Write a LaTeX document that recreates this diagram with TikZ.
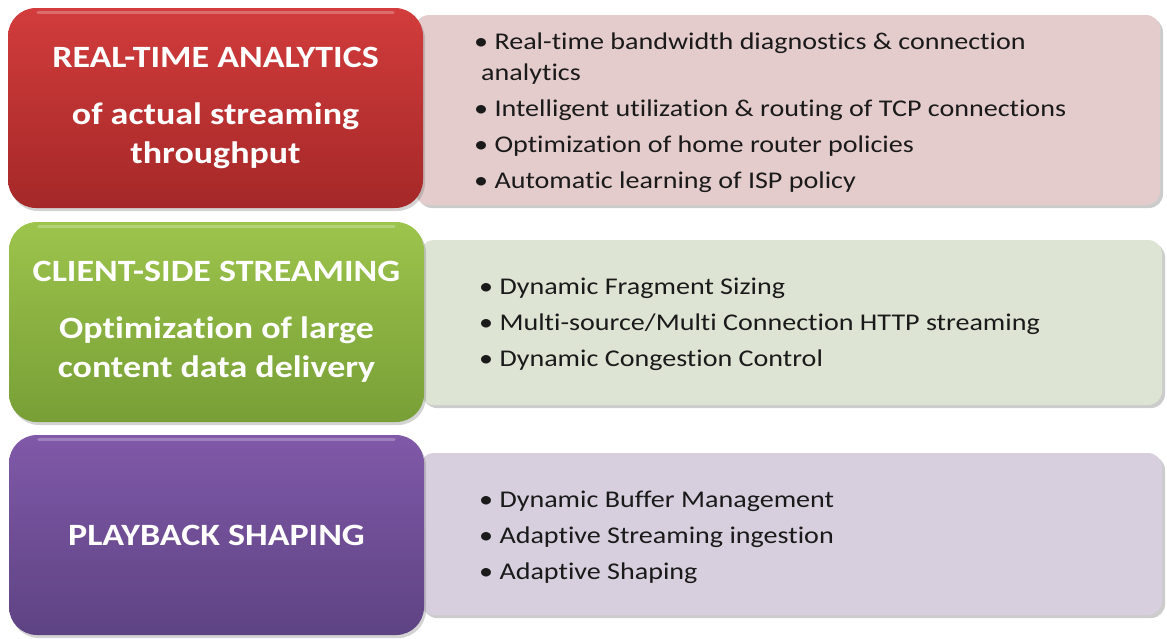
\documentclass[tikz,border=0pt]{standalone}
\usepackage{fontspec}
\setmainfont{Carlito}[Ligatures={NoCommon}]
\newfontfamily\headfont[FakeStretch=1.16,Ligatures={NoCommon}]{Carlito}
\newfontfamily\listfont[FakeStretch=1.17,Ligatures={NoCommon}]{Carlito}
\usetikzlibrary{shadows,calc}

\definecolor{redtop}{HTML}{D23C3C}
\definecolor{redbot}{HTML}{A52828}
\definecolor{greentop}{HTML}{9DC44C}
\definecolor{greenbot}{HTML}{779F36}
\definecolor{purpletop}{HTML}{8059A8}
\definecolor{purplebot}{HTML}{5E4383}
\definecolor{redpanel}{HTML}{E5CCCC}
\definecolor{greenpanel}{HTML}{DDE4D4}
\definecolor{purplepanel}{HTML}{D7CFDD}
\definecolor{textdark}{HTML}{1A1A1A}

\tikzset{
  headbox/.style={rounded corners=28pt, minimum width=415pt, minimum height=200pt,
    inner sep=0pt, align=center, text=white,
    font=\headfont\fontsize{31}{39}\selectfont\bfseries,
    drop shadow={shadow xshift=2pt, shadow yshift=-3pt, opacity=0.35}},
  panel/.style={rounded corners=14pt, inner sep=0pt,
    drop shadow={shadow xshift=3pt, shadow yshift=-3pt, opacity=0.4}},
  bullets/.style={anchor=west, align=left, text=textdark, inner sep=0pt,
    font=\listfont\fontsize{24}{36}\selectfont},
  gloss/.style={white, opacity=0.25, line width=3pt, line cap=round}
}

\begin{document}
\begin{tikzpicture}[x=1pt, y=-1pt]
  \useasboundingbox (0,0) rectangle (1167,638);

  % pale panels behind the coloured headings
  \node[panel, fill=redpanel, minimum width=745pt, minimum height=190pt]
    (redpan) at (787.5,110) {};
  \node[panel, fill=greenpanel, minimum width=742pt, minimum height=165pt]
    (greenpan) at (791,322.5) {};
  \node[panel, fill=purplepanel, minimum width=742pt, minimum height=162pt]
    (purplepan) at (791,534) {};

  % coloured heading boxes
  \node[headbox, top color=redtop, bottom color=redbot] (redbox) at (215.5,108)
    {REAL-TIME ANALYTICS\\[18pt]of actual streaming\\throughput};
  \node[headbox, top color=greentop, bottom color=greenbot] (greenbox) at (216.5,322)
    {CLIENT-SIDE STREAMING\\[18pt]Optimization of large\\content data delivery};
  \node[headbox, top color=purpletop, bottom color=purplebot] (purplebox) at (216.5,535)
    {PLAYBACK SHAPING};

  % glossy highlights along the top edges
  \draw[gloss] ($(redbox.north west)+(30,5)$) -- ($(redbox.north east)+(-30,5)$);
  \draw[gloss] ($(greenbox.north west)+(30,5)$) -- ($(greenbox.north east)+(-30,5)$);
  \draw[gloss] ($(purplebox.north west)+(30,5)$) -- ($(purplebox.north east)+(-30,5)$);

  % bullet lists
  \node[bullets] (redlist) at (474,113)
    {\textbullet{} Real-time bandwidth diagnostics \& connection\\[-5pt]
     \hspace*{7pt}analytics\\
     \textbullet{} Intelligent utilization \& routing of TCP connections\\
     \textbullet{} Optimization of home router policies\\
     \textbullet{} Automatic learning of ISP policy};
  \node[bullets] (greenlist) at (479,324)
    {\textbullet{} Dynamic Fragment Sizing\\
     \textbullet{} Multi-source/Multi Connection HTTP streaming\\
     \textbullet{} Dynamic Congestion Control};
  \node[bullets] (purplelist) at (479,537)
    {\textbullet{} Dynamic Buffer Management\\
     \textbullet{} Adaptive Streaming ingestion\\
     \textbullet{} Adaptive Shaping};
\end{tikzpicture}
\end{document}
